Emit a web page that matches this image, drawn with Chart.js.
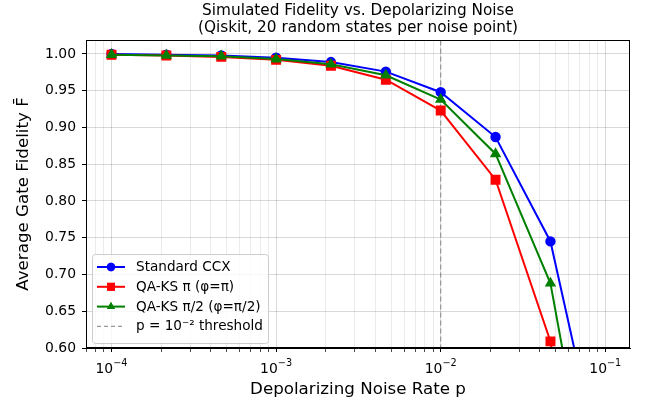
<!DOCTYPE html>
<html>
<head>
<meta charset="utf-8">
<script src="https://cdn.jsdelivr.net/npm/chart.js@4.4.0/dist/chart.umd.min.js"></script>
<style>
  html, body { margin: 0; padding: 0; background: #fff; }
  #wrap { width: 647px; height: 402px; }
</style>
</head>
<body>
<div id="wrap"><canvas id="fidelity"></canvas></div>
<script>
// noise rates (log spaced)
const noiseRates = [1e-4, 2.154e-4, 4.642e-4, 1e-3, 2.154e-3, 4.642e-3, 1e-2, 2.154e-2, 4.642e-2, 1e-1];
const standardCCX = [1.000, 0.999, 0.998, 0.995, 0.989, 0.976, 0.948, 0.887, 0.745, 0.41];
const qaksPi = [0.999, 0.998, 0.996, 0.992, 0.984, 0.965, 0.923, 0.829, 0.609, 0.15];
const qaksHalfPi = [0.999, 0.998, 0.997, 0.993, 0.986, 0.971, 0.938, 0.864, 0.688, 0.28];
const thresholdP = 1e-2;
const xTickExponents = ['−4', '−3', '−2', '−1'];
const yTicks = [0.60, 0.65, 0.70, 0.75, 0.80, 0.85, 0.90, 0.95, 1.00];
const titleLines = ['Simulated Fidelity vs. Depolarizing Noise', '(Qiskit, 20 random states per noise point)'];

const FONT = 'DejaVu Sans';

function toPoints(ys) {
    return noiseRates.map((x, i) => ({x: x, y: ys[i]}));
}
function isPow10(v) {
    const l = Math.log10(v);
    return Math.abs(l - Math.round(l)) < 1e-6;
}

const legendItems = [
    {label: 'Standard CCX', color: '#0000ff', marker: 'circle', r: 4.2},
    {label: 'QA-KS π (φ=π)', color: '#ff0000', marker: 'rect', r: 5.6},
    {label: 'QA-KS π/2 (φ=π/2)', color: '#008000', marker: 'triangle', r: 4.6},
    {label: 'p = 10⁻² threshold', color: 'rgba(128,128,128,0.8)', marker: null, dash: true},
];

const framePlugin = {
    id: 'frame',
    afterDraw(chart) {
        const {ctx, chartArea: a} = chart;
        ctx.save();
        // plot frame
        ctx.strokeStyle = '#000';
        ctx.lineWidth = 1;
        ctx.strokeRect(a.left + 0.5, a.top + 0.5, a.right - a.left - 1, a.bottom - a.top - 1);

        // title
        ctx.fillStyle = '#000';
        ctx.font = '15.3px "' + FONT + '"';
        ctx.textAlign = 'center';
        ctx.textBaseline = 'middle';
        const cx = (a.left + a.right) / 2;
        ctx.fillText(titleLines[0], cx, 11);
        ctx.fillText(titleLines[1], cx, 28);

        // x tick labels, 10 with raised exponent
        const xs = chart.scales.x;
        ctx.textBaseline = 'alphabetic';
        ctx.textAlign = 'left';
        xTickExponents.forEach(exp => {
            const v = Math.pow(10, Number(exp.replace('−', '-')));
            const px = xs.getPixelForValue(v);
            ctx.font = '13.9px "' + FONT + '"';
            const wBase = ctx.measureText('10').width;
            ctx.font = '9.7px "' + FONT + '"';
            const wExp = ctx.measureText(exp).width;
            const x0 = px - (wBase + wExp) / 2;
            ctx.font = '13.9px "' + FONT + '"';
            ctx.fillText('10', x0, 373);
            ctx.font = '9.7px "' + FONT + '"';
            ctx.fillText(exp, x0 + wBase, 366);
        });

        // legend box
        const bx = 92, by = 254, bw = 176, bh = 89;
        ctx.beginPath();
        ctx.roundRect(bx + 0.5, by + 0.5, bw, bh, 3);
        ctx.fillStyle = 'rgba(255,255,255,0.8)';
        ctx.fill();
        ctx.strokeStyle = '#cccccc';
        ctx.stroke();

        ctx.font = '13.6px "' + FONT + '"';
        ctx.textAlign = 'left';
        ctx.textBaseline = 'middle';
        legendItems.forEach((it, i) => {
            const y = by + 13 + i * 19.8;
            ctx.strokeStyle = it.color;
            ctx.fillStyle = it.color;
            ctx.lineWidth = it.dash ? 1.2 : 2;
            ctx.setLineDash(it.dash ? [4, 3] : []);
            ctx.beginPath();
            ctx.moveTo(97, y);
            ctx.lineTo(125, y);
            ctx.stroke();
            ctx.setLineDash([]);
            if (it.marker) {
                Chart.helpers.drawPoint(ctx, {pointStyle: it.marker, radius: it.r, rotation: 0, borderWidth: 0}, 111, y);
                ctx.fill();
            }
            ctx.fillStyle = '#000';
            ctx.fillText(it.label, 136, y + 0.5);
        });
        ctx.restore();
    }
};

new Chart(document.getElementById('fidelity'), {
    type: 'line',
    data: {
        datasets: [
            {
                label: 'Standard CCX',
                data: toPoints(standardCCX),
                borderColor: '#0000ff',
                backgroundColor: '#0000ff',
                pointStyle: 'circle',
                pointRadius: 4.2,
                borderWidth: 2,
                order: 3,
            },
            {
                label: 'QA-KS π (φ=π)',
                data: toPoints(qaksPi),
                borderColor: '#ff0000',
                backgroundColor: '#ff0000',
                pointStyle: 'rect',
                pointRadius: 5.6,
                borderWidth: 2,
                order: 2,
            },
            {
                label: 'QA-KS π/2 (φ=π/2)',
                data: toPoints(qaksHalfPi),
                borderColor: '#008000',
                backgroundColor: '#008000',
                pointStyle: 'triangle',
                pointRadius: 4.6,
                borderWidth: 2,
                order: 1,
            },
            {
                label: 'p = 10⁻² threshold',
                data: [{x: thresholdP, y: 0.5}, {x: thresholdP, y: 1.1}],
                borderColor: 'rgba(128,128,128,0.8)',
                borderDash: [5, 3],
                borderWidth: 1.2,
                pointRadius: 0,
                order: 4,
            },
        ]
    },
    options: {
        responsive: true,
        maintainAspectRatio: false,
        animation: false,
        layout: {padding: {left: 0, right: 17, top: 40, bottom: 0}},
        elements: {point: {borderWidth: 0}, line: {tension: 0}},
        plugins: {
            legend: {display: false},
            tooltip: {enabled: false},
        },
        scales: {
            x: {
                type: 'logarithmic',
                min: Math.pow(10, -4.15),
                max: Math.pow(10, -0.85),
                afterBuildTicks(scale) {
                    const ticks = [];
                    for (let e = -5; e <= 0; e++) {
                        for (let m = 1; m <= 9; m++) {
                            const v = m * Math.pow(10, e);
                            if (v >= scale.min && v <= scale.max) ticks.push({value: v, major: m === 1});
                        }
                    }
                    scale.ticks = ticks;
                },
                afterFit(scale) { scale.height = 54; },
                ticks: {
                    autoSkip: false,
                    maxRotation: 0,
                    callback: () => '',
                },
                grid: {
                    color: ctx => (ctx.tick && isPow10(ctx.tick.value)) ? 'rgba(0,0,0,0.15)' : 'rgba(0,0,0,0.08)',
                    tickColor: '#000',
                    tickLength: 4,
                    tickWidth: ctx => (ctx.tick && isPow10(ctx.tick.value)) ? 1 : 0.7,
                },
                border: {display: true, color: '#000'},
                title: {
                    display: true,
                    text: 'Depolarizing Noise Rate p',
                    color: '#000',
                    font: {family: FONT, size: 16.7},
                    padding: {top: 0, bottom: 2},
                },
            },
            y: {
                type: 'linear',
                min: 0.6,
                max: 1.019,
                afterBuildTicks(scale) {
                    scale.ticks = yTicks.map(v => ({value: v}));
                },
                afterFit(scale) { scale.width = 86; },
                ticks: {
                    padding: 6,
                    color: '#000',
                    font: {family: FONT, size: 13.9},
                    callback: v => v.toFixed(2),
                },
                grid: {
                    color: 'rgba(0,0,0,0.15)',
                    tickColor: '#000',
                    tickLength: 4,
                },
                border: {display: true, color: '#000'},
                title: {
                    display: true,
                    text: 'Average Gate Fidelity F̄',
                    color: '#000',
                    font: {family: FONT, size: 16.7},
                    padding: {top: 14, bottom: 0},
                },
            },
        },
    },
    plugins: [framePlugin],
});
</script>
</body>
</html>
